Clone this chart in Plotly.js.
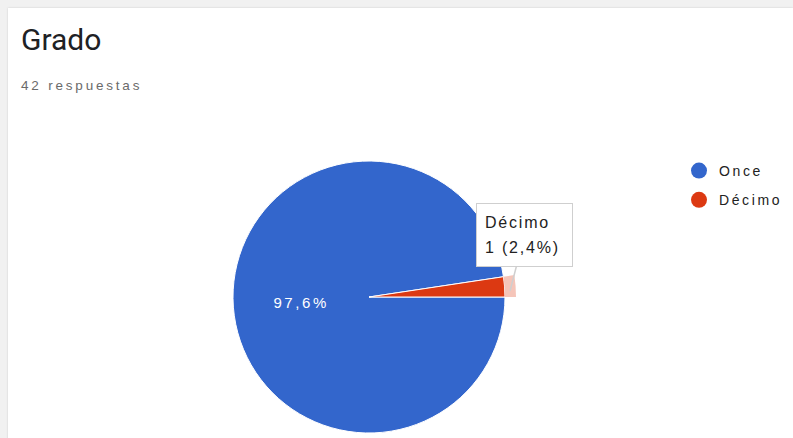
<!DOCTYPE html>
<html>
<head>
<meta charset="utf-8">
<script src="https://cdn.plot.ly/plotly-3.0.1.min.js"></script>
<style>
  html, body { margin: 0; padding: 0; width: 793px; height: 438px; overflow: hidden; background: #f1f1f1; }
  #chart { position: absolute; left: 8px; top: 8px; width: 785px; height: 452px; background: #fff;
           box-shadow: 0 0 2px rgba(0,0,0,0.15); }
  .legendtext, .slicetext { letter-spacing: 2.6px; }
</style>
</head>
<body>
<div id="chart"></div>
<script>
// ---- data ----
var categories = ['Once', 'Décimo'];
var counts = [41, 1];
var sliceColors = ['#3366cc', '#dc3912'];
var titleText = 'Grado';
var subtitleText = '42 respuestas';
var highlighted = 1; // the slice with the tooltip

// ---- derived ----
var total = counts.reduce(function (a, b) { return a + b; }, 0);
var pctText = function (i) { return (100 * counts[i] / total).toFixed(1).replace('.', ',') + '%'; };
function spaced(s, px, size) {
  return '<span style="letter-spacing:' + px + 'px' + (size ? ';font-size:' + size + 'px' : '') + '">' + s + '</span>';
}
var tooltipText = spaced(categories[highlighted], 1.8, 16) + '<br>' +
                  spaced(counts[highlighted] + ' (' + pctText(highlighted) + ')', 1.8, 16);

var W = 785, H = 452;
var cx = 361, cy = 289, R = 136, Rring = 147;
function dom(r) {
  return {
    x: [(cx - r) / W, (cx + r) / W],
    y: [(H - cy - r) / H, (H - cy + r) / H]
  };
}
var font = 'Arial, "Liberation Sans", sans-serif';

var mainPie = {
  type: 'pie',
  labels: categories,
  values: counts,
  sort: false,
  direction: 'clockwise',
  rotation: 90,
  marker: { colors: sliceColors, line: { color: '#ffffff', width: 1 } },
  texttemplate: counts.map(function (c, i) { return i === highlighted ? '' : '%{percent:.1%}'; }),
  textposition: 'inside',
  insidetextorientation: 'horizontal',
  textfont: { color: '#ffffff', size: 15, family: font },
  showlegend: false,
  hoverinfo: 'none',
  domain: dom(R)
};

var ringPie = {
  type: 'pie',
  labels: categories,
  values: counts,
  sort: false,
  direction: 'clockwise',
  rotation: 90,
  hole: R / Rring,
  marker: {
    colors: counts.map(function (c, i) { return i === highlighted ? '#f5c5b9' : 'rgba(0,0,0,0)'; }),
    line: { width: 0 }
  },
  textinfo: 'none',
  showlegend: false,
  hoverinfo: 'none',
  domain: dom(Rring)
};

var legendTraces = categories.map(function (name, i) {
  return {
    type: 'scatter',
    mode: 'markers',
    x: [null], y: [null],
    name: name,
    legendgroup: 'g' + i,
    marker: { color: sliceColors[i], size: 16, symbol: 'circle' },
    hoverinfo: 'none'
  };
});

var layout = {
  width: W, height: H,
  margin: { l: 0, r: 0, t: 0, b: 0 },
  paper_bgcolor: '#ffffff',
  plot_bgcolor: '#ffffff',
  separators: ',.',
  hovermode: false,
  xaxis: { visible: false },
  yaxis: { visible: false },
  title: {
    text: titleText,
    x: 13 / W, xref: 'paper', xanchor: 'left',
    y: 1 - 31.5 / H, yref: 'container', yanchor: 'middle',
    font: { family: 'Roboto, Arial, sans-serif', size: 30, color: '#202124' }
  },
  annotations: [
    {
      text: spaced(subtitleText, 2.8),
      xref: 'paper', yref: 'paper',
      x: 11 / W, y: 1 - 77 / H,
      xanchor: 'left', yanchor: 'middle',
      showarrow: false,
      font: { family: font, size: 13.5, color: '#6a6a6a' }
    },
    {
      text: tooltipText,
      xref: 'paper', yref: 'paper',
      x: 502 / W, y: 1 - 283 / H,
      ax: 14.5, ay: -56,
      showarrow: true, arrowhead: 0, arrowwidth: 1.5, arrowcolor: '#cfcfcf',
      align: 'left',
      width: 79, height: 46, borderpad: 8,
      bgcolor: '#ffffff', bordercolor: '#cfcfcf', borderwidth: 1,
      font: { family: font, size: 19, color: '#222222' }
    }
  ],
  showlegend: true,
  legend: {
    x: 671 / W, xanchor: 'left',
    y: 1 - 147 / H, yanchor: 'top',
    traceorder: 'grouped',
    tracegroupgap: 8,
    bgcolor: 'rgba(0,0,0,0)',
    font: { family: font, size: 14, color: '#222222' }
  }
};

Plotly.newPlot('chart', [mainPie, ringPie].concat(legendTraces), layout, { displayModeBar: false, staticPlot: true });
</script>
</body>
</html>
